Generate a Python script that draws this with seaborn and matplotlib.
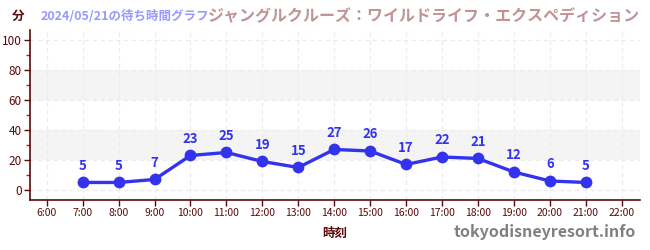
import matplotlib
matplotlib.use("Agg")
import matplotlib.pyplot as plt
import seaborn as sns
import pandas as pd
from matplotlib.ticker import MultipleLocator

hours = [7, 8, 9, 10, 11, 12, 13, 14, 15, 16, 17, 18, 19, 20, 21]
waits = [5, 5, 7, 23, 25, 19, 15, 27, 26, 17, 22, 21, 12, 6, 5]
xtick_hours = list(range(6, 23))
xtick_labels = [f"{h}:00" for h in xtick_hours]
yticks = [0, 20, 40, 60, 80, 100]

sns.set_theme(style="white")
plt.rcParams['font.family'] = ['Noto Sans CJK JP', 'DejaVu Sans']

df = pd.DataFrame({"hour": hours, "wait": waits})
fig = plt.figure(figsize=(6.5, 2.5), dpi=100)
ax = fig.add_axes([0.046, 0.2, 0.938, 0.68])

dark = "#5a0a0a"
blue = "#3333ee"
for lo, hi in [(20, 40), (60, 80)]:
    ax.axhspan(lo, hi, color="#f4f4f4", zorder=0, lw=0)

sns.lineplot(data=df, x="hour", y="wait", ax=ax, color=blue, lw=2.4,
             marker="o", markersize=8.5, markeredgewidth=0, zorder=3)
for h, w in zip(hours, waits):
    ax.annotate(str(w), (h, w), xytext=(0, 7), textcoords="offset points",
                ha="center", va="bottom", color=blue, fontsize=9.5, fontweight="bold")

ax.set_xlim(5.53, 22.5)
ax.set_ylim(-6.7, 106.7)
ax.set_xticks(xtick_hours)
ax.set_xticklabels(xtick_labels)
ax.set_yticks(yticks)
ax.yaxis.set_minor_locator(MultipleLocator(10))
ax.grid(True, which="major", color="#ebebeb", ls=(0, (4, 3)), lw=0.8)
for s in ["top", "right"]:
    ax.spines[s].set_visible(False)
for s in ["left", "bottom"]:
    ax.spines[s].set_color(dark)
    ax.spines[s].set_linewidth(1.2)
ax.tick_params(axis="x", which="major", length=4, width=1, color=dark, labelsize=7.5, labelcolor=dark, pad=2, bottom=True)
ax.tick_params(axis="y", which="major", length=4, width=1, color=dark, labelsize=8.5, labelcolor=dark, pad=2, left=True)
ax.tick_params(axis="y", which="minor", length=3, width=1, color="red", left=True)
ax.set_xlabel("時刻", color=dark, fontsize=9, fontweight="bold", labelpad=6)
ax.set_ylabel("")

fig.text(0.018, 0.935, "分", color=dark, fontsize=9, fontweight="bold", va="center")
fig.text(0.063, 0.935, "2024/05/21の待ち時間グラフ", color="#9999ff", fontsize=9, fontweight="bold", va="center")
fig.text(0.985, 0.935, "ジャングルクルーズ：ワイルドライフ・エクスペディション", color="#c09494", fontsize=11.5, fontweight="bold", va="center", ha="right")
fig.text(0.978, 0.07, "tokyodisneyresort.info", color="#808080", fontsize=11.5, fontweight="bold", va="center", ha="right")

fig.savefig("out.png", dpi=100)
